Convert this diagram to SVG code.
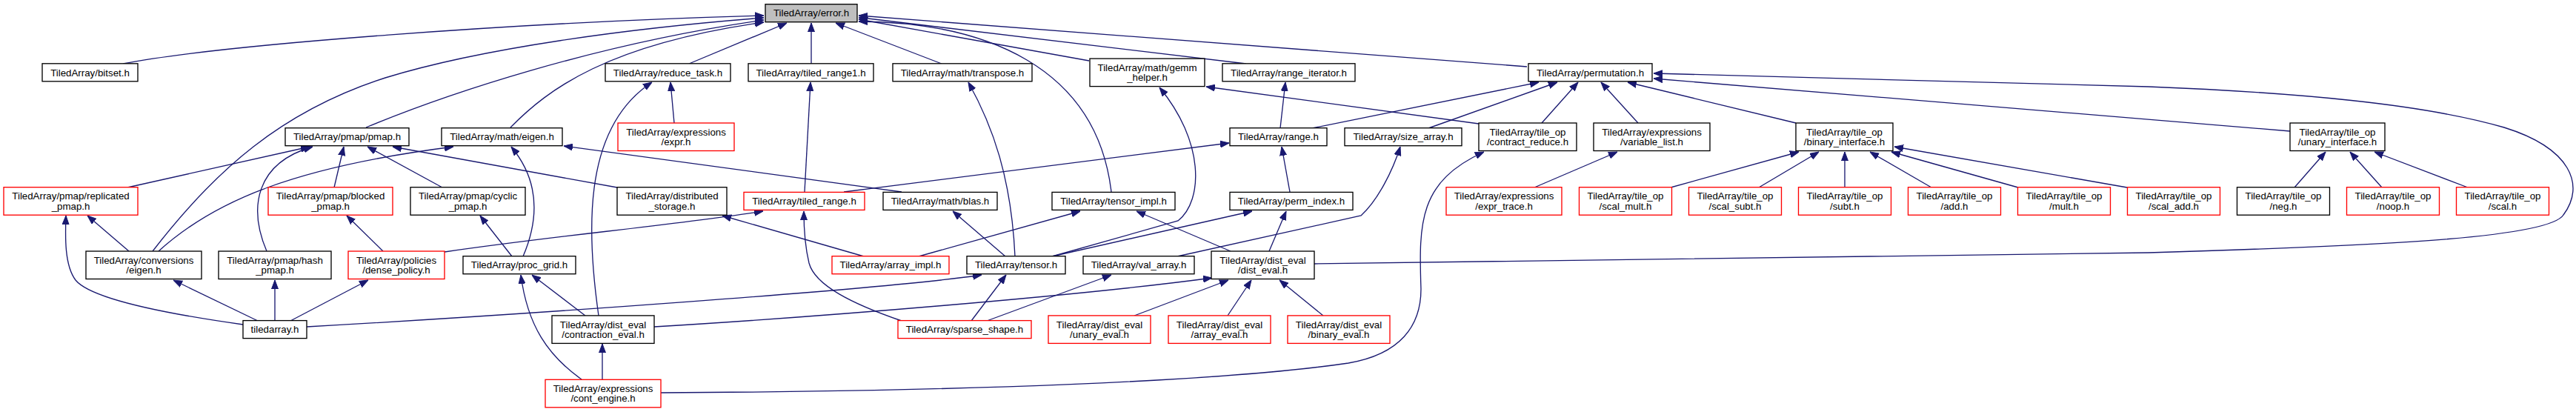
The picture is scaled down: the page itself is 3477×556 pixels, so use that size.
<svg xmlns="http://www.w3.org/2000/svg" width="3477" height="556" viewBox="0 0 3477 556">
<style>
rect{fill:#ffffff;stroke:#000000;stroke-width:1.33}
rect.r{stroke:#ff0000}
rect.g{fill:#bfbfbf}
text{font-family:"Liberation Sans",Arial,sans-serif;font-size:13.3px;fill:#000000;text-anchor:middle}
#edges path{fill:none;stroke:#191970;stroke-width:1.33;marker-end:url(#ah)}
</style>
<defs>
<marker id="ah" viewBox="0 0 12 10" refX="12" refY="5" markerWidth="12" markerHeight="10" orient="auto" markerUnits="userSpaceOnUse">
<path d="M0,0.5 L12,5 L0,9.5 z" fill="#191970" stroke="#191970" stroke-width="1"/>
</marker>
</defs>
<rect x="0" y="0" width="3477" height="556" style="fill:#ffffff;stroke:none"/>
<g id="edges">
<path d="M166,86 C 300,60 700,30 1031,21"/>
<path d="M206,339 C 290,230 380,150 520,105 C 650,65 850,38 1031,24"/>
<path d="M494,172 C 600,128 800,60 1031,27"/>
<path d="M689,172 C 740,120 820,60 1031,30"/>
<path d="M930,86 L1062,31"/>
<path d="M1095,86 L1095,31"/>
<path d="M1271,86 L1128,31"/>
<path d="M1500,259 C 1480,90 1330,30 1159,29"/>
<path d="M1470,82 L1159,26"/>
<path d="M1682,86 L1159,23.5"/>
<path d="M2061,90 L1159,21"/>
<path d="M808,426 C 790,300 790,170 880,111"/>
<path d="M910,166 L905,111"/>
<path d="M1086,259 L1094,111"/>
<path d="M1370,346 C 1365,240 1340,170 1307,111"/>
<path d="M1420,346 L1590,298 C 1625,270 1625,190 1565,118"/>
<path d="M1996,167 L1628,117"/>
<path d="M1728,173 L1735,111"/>
<path d="M1771,173 L2077,111"/>
<path d="M1928,173 L2102,111"/>
<path d="M2081,166 L2130,111"/>
<path d="M2211,166 L2161,111"/>
<path d="M2424,166 L2197,111"/>
<path d="M3091,177 L2232,106"/>
<path d="M1774,356 L2900,341 C 3200,332 3440,322 3460,290 C 3490,250 3470,200 3380,172 C 3270,140 3100,125 2900,117 L2232,99"/>
<path d="M172,253 L418,198"/>
<path d="M360,339 C 335,280 345,220 422,198"/>
<path d="M451,253 L464,198"/>
<path d="M597,253 L496,198"/>
<path d="M833,253 L530,198"/>
<path d="M214,339 C 290,270 400,225 612,198"/>
<path d="M706,346 C 730,290 725,240 690,198"/>
<path d="M1217,259 L761,197"/>
<path d="M1139,259 L1659,193"/>
<path d="M1741,259 L1730,198"/>
<path d="M1589,346 L1837,291 C 1860,270 1880,230 1890,198"/>
<path d="M892,530 C 1300,528 1650,515 1820,490 C 1890,478 1918,440 1918,390 C 1915,300 1915,245 2003,205"/>
<path d="M2071,253 L2183,205"/>
<path d="M2255,253 L2428,205"/>
<path d="M2374,253 L2455,205"/>
<path d="M2490,253 L2490,205"/>
<path d="M2607,253 L2524,205"/>
<path d="M2724,253 L2553,205"/>
<path d="M2871,253 L2557,198"/>
<path d="M3097,253 L3139,205"/>
<path d="M3215,253 L3172,205"/>
<path d="M3331,253 L3205,205"/>
<path d="M174,339 L118,291"/>
<path d="M328,438 C 200,420 120,400 102,378 C 87,358 88,320 89,291"/>
<path d="M517,339 L468,291"/>
<path d="M691,346 L648,291"/>
<path d="M1166,346 L975,291"/>
<path d="M600,340 C 750,318 900,305 1030,285"/>
<path d="M1217,433 C 1150,410 1100,385 1092,355 C 1086,330 1085,305 1085,285"/>
<path d="M1357,346 L1286,285"/>
<path d="M1240,346 L1458,285"/>
<path d="M1661,339 L1534,285"/>
<path d="M1420,346 L1690,285"/>
<path d="M1713,339 L1736,285"/>
<path d="M348,433 L234,378"/>
<path d="M371,433 L371,378"/>
<path d="M392,433 L497,378"/>
<path d="M790,426 L718,371"/>
<path d="M785,512 C 740,480 712,440 703,371"/>
<path d="M414,441 C 700,425 1200,390 1325,371"/>
<path d="M1311,433 L1358,371"/>
<path d="M1332,433 L1500,371"/>
<path d="M883,441 C 1100,428 1450,400 1636,375"/>
<path d="M1531,426 L1658,378"/>
<path d="M1657,426 L1689,378"/>
<path d="M1786,426 L1727,378"/>
<path d="M813,512 L813,464"/>
</g>
<g id="node-error"><rect class="g" x="1033" y="5.7" width="124" height="24"/><text x="1095" y="22.4">TiledArray/error.h</text></g>
<g id="node-bitset"><rect x="57" y="85.8" width="129" height="24"/><text x="121.5" y="102.5">TiledArray/bitset.h</text></g>
<g id="node-reduce_task"><rect x="817" y="85.8" width="169" height="24"/><text x="901.5" y="102.5">TiledArray/reduce_task.h</text></g>
<g id="node-tiled_range1"><rect x="1010" y="85.8" width="169" height="24"/><text x="1094.5" y="102.5">TiledArray/tiled_range1.h</text></g>
<g id="node-transpose"><rect x="1205" y="85.8" width="188" height="24"/><text x="1299" y="102.5">TiledArray/math/transpose.h</text></g>
<g id="node-gemm_helper"><rect x="1471" y="79.1" width="155" height="37.5"/><text x="1548.5" y="95.8">TiledArray/math/gemm</text><text x="1548.5" y="109.1">_helper.h</text></g>
<g id="node-range_iterator"><rect x="1650" y="85.8" width="179" height="24"/><text x="1739.5" y="102.5">TiledArray/range_iterator.h</text></g>
<g id="node-permutation"><rect x="2063" y="85.8" width="167" height="24"/><text x="2146.5" y="102.5">TiledArray/permutation.h</text></g>
<g id="node-pmap"><rect x="385" y="172.7" width="167" height="24"/><text x="468.5" y="189.4">TiledArray/pmap/pmap.h</text></g>
<g id="node-math_eigen"><rect x="596" y="172.7" width="163" height="24"/><text x="677.5" y="189.4">TiledArray/math/eigen.h</text></g>
<g id="node-expr"><rect class="r" x="834" y="166" width="157" height="37.5"/><text x="912.5" y="182.7">TiledArray/expressions</text><text x="912.5" y="196">/expr.h</text></g>
<g id="node-range"><rect x="1660" y="172.7" width="131" height="24"/><text x="1725.5" y="189.4">TiledArray/range.h</text></g>
<g id="node-size_array"><rect x="1815" y="172.7" width="158" height="24"/><text x="1894" y="189.4">TiledArray/size_array.h</text></g>
<g id="node-contract_reduce"><rect x="1996" y="166" width="132" height="37.5"/><text x="2062" y="182.7">TiledArray/tile_op</text><text x="2062" y="196">/contract_reduce.h</text></g>
<g id="node-variable_list"><rect x="2151" y="166" width="157" height="37.5"/><text x="2229.5" y="182.7">TiledArray/expressions</text><text x="2229.5" y="196">/variable_list.h</text></g>
<g id="node-binary_interface"><rect x="2424" y="166" width="131" height="37.5"/><text x="2489.5" y="182.7">TiledArray/tile_op</text><text x="2489.5" y="196">/binary_interface.h</text></g>
<g id="node-unary_interface"><rect x="3091" y="166" width="128" height="37.5"/><text x="3155" y="182.7">TiledArray/tile_op</text><text x="3155" y="196">/unary_interface.h</text></g>
<g id="node-replicated_pmap"><rect class="r" x="5" y="252.7" width="181" height="37.5"/><text x="95.5" y="269.4">TiledArray/pmap/replicated</text><text x="95.5" y="282.7">_pmap.h</text></g>
<g id="node-blocked_pmap"><rect class="r" x="362" y="252.7" width="168" height="37.5"/><text x="446" y="269.4">TiledArray/pmap/blocked</text><text x="446" y="282.7">_pmap.h</text></g>
<g id="node-cyclic_pmap"><rect x="554" y="252.7" width="155" height="37.5"/><text x="631.5" y="269.4">TiledArray/pmap/cyclic</text><text x="631.5" y="282.7">_pmap.h</text></g>
<g id="node-distributed_storage"><rect x="833" y="252.7" width="148" height="37.5"/><text x="907" y="269.4">TiledArray/distributed</text><text x="907" y="282.7">_storage.h</text></g>
<g id="node-tiled_range"><rect class="r" x="1004" y="259.4" width="163" height="24"/><text x="1085.5" y="276.1">TiledArray/tiled_range.h</text></g>
<g id="node-blas"><rect x="1192" y="259.4" width="154" height="24"/><text x="1269" y="276.1">TiledArray/math/blas.h</text></g>
<g id="node-tensor_impl"><rect x="1420" y="259.4" width="166" height="24"/><text x="1503" y="276.1">TiledArray/tensor_impl.h</text></g>
<g id="node-perm_index"><rect x="1660" y="259.4" width="166" height="24"/><text x="1743" y="276.1">TiledArray/perm_index.h</text></g>
<g id="node-expr_trace"><rect class="r" x="1952" y="252.7" width="156" height="37.5"/><text x="2030" y="269.4">TiledArray/expressions</text><text x="2030" y="282.7">/expr_trace.h</text></g>
<g id="node-scal_mult"><rect class="r" x="2131.5" y="252.7" width="125" height="37.5"/><text x="2194" y="269.4">TiledArray/tile_op</text><text x="2194" y="282.7">/scal_mult.h</text></g>
<g id="node-scal_subt"><rect class="r" x="2279.5" y="252.7" width="125" height="37.5"/><text x="2342" y="269.4">TiledArray/tile_op</text><text x="2342" y="282.7">/scal_subt.h</text></g>
<g id="node-subt"><rect class="r" x="2427.5" y="252.7" width="125" height="37.5"/><text x="2490" y="269.4">TiledArray/tile_op</text><text x="2490" y="282.7">/subt.h</text></g>
<g id="node-add"><rect class="r" x="2575.5" y="252.7" width="125" height="37.5"/><text x="2638" y="269.4">TiledArray/tile_op</text><text x="2638" y="282.7">/add.h</text></g>
<g id="node-mult"><rect class="r" x="2723.5" y="252.7" width="125" height="37.5"/><text x="2786" y="269.4">TiledArray/tile_op</text><text x="2786" y="282.7">/mult.h</text></g>
<g id="node-scal_add"><rect class="r" x="2871.5" y="252.7" width="125" height="37.5"/><text x="2934" y="269.4">TiledArray/tile_op</text><text x="2934" y="282.7">/scal_add.h</text></g>
<g id="node-neg"><rect x="3019.5" y="252.7" width="125" height="37.5"/><text x="3082" y="269.4">TiledArray/tile_op</text><text x="3082" y="282.7">/neg.h</text></g>
<g id="node-noop"><rect class="r" x="3167.5" y="252.7" width="125" height="37.5"/><text x="3230" y="269.4">TiledArray/tile_op</text><text x="3230" y="282.7">/noop.h</text></g>
<g id="node-scal"><rect class="r" x="3315.5" y="252.7" width="125" height="37.5"/><text x="3378" y="269.4">TiledArray/tile_op</text><text x="3378" y="282.7">/scal.h</text></g>
<g id="node-conversions_eigen"><rect x="116" y="339" width="156" height="37.5"/><text x="194" y="355.7">TiledArray/conversions</text><text x="194" y="369">/eigen.h</text></g>
<g id="node-hash_pmap"><rect x="295" y="339" width="152" height="37.5"/><text x="371" y="355.7">TiledArray/pmap/hash</text><text x="371" y="369">_pmap.h</text></g>
<g id="node-dense_policy"><rect class="r" x="470" y="339" width="130" height="37.5"/><text x="535" y="355.7">TiledArray/policies</text><text x="535" y="369">/dense_policy.h</text></g>
<g id="node-proc_grid"><rect x="625" y="345.7" width="152" height="24"/><text x="701" y="362.4">TiledArray/proc_grid.h</text></g>
<g id="node-array_impl"><rect class="r" x="1123" y="345.7" width="158" height="24"/><text x="1202" y="362.4">TiledArray/array_impl.h</text></g>
<g id="node-tensor"><rect x="1305" y="345.7" width="133" height="24"/><text x="1371.5" y="362.4">TiledArray/tensor.h</text></g>
<g id="node-val_array"><rect x="1462" y="345.7" width="150" height="24"/><text x="1537" y="362.4">TiledArray/val_array.h</text></g>
<g id="node-dist_eval"><rect x="1635" y="339" width="139" height="37.5"/><text x="1704.5" y="355.7">TiledArray/dist_eval</text><text x="1704.5" y="369">/dist_eval.h</text></g>
<g id="node-tiledarray"><rect x="328" y="432.6" width="86" height="24"/><text x="371" y="449.3">tiledarray.h</text></g>
<g id="node-contraction_eval"><rect x="745" y="425.9" width="138" height="37.5"/><text x="814" y="442.6">TiledArray/dist_eval</text><text x="814" y="455.9">/contraction_eval.h</text></g>
<g id="node-sparse_shape"><rect class="r" x="1212" y="432.6" width="180" height="24"/><text x="1302" y="449.3">TiledArray/sparse_shape.h</text></g>
<g id="node-unary_eval"><rect class="r" x="1415" y="425.9" width="138" height="37.5"/><text x="1484" y="442.6">TiledArray/dist_eval</text><text x="1484" y="455.9">/unary_eval.h</text></g>
<g id="node-array_eval"><rect class="r" x="1577" y="425.9" width="138" height="37.5"/><text x="1646" y="442.6">TiledArray/dist_eval</text><text x="1646" y="455.9">/array_eval.h</text></g>
<g id="node-binary_eval"><rect class="r" x="1738" y="425.9" width="138" height="37.5"/><text x="1807" y="442.6">TiledArray/dist_eval</text><text x="1807" y="455.9">/binary_eval.h</text></g>
<g id="node-cont_engine"><rect class="r" x="736" y="512.3" width="156" height="37.5"/><text x="814" y="529">TiledArray/expressions</text><text x="814" y="542.3">/cont_engine.h</text></g>
</svg>
